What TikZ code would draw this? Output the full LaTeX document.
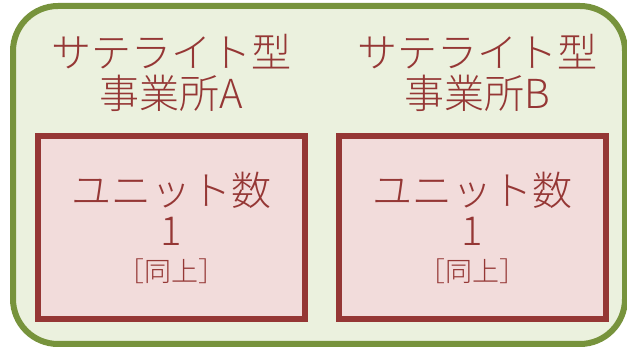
\documentclass[tikz,border=0pt]{standalone}
\usepackage{fontspec}
\setmainfont{Noto Sans CJK JP Light}
\usetikzlibrary{positioning}
\definecolor{leafline}{HTML}{77933C}
\definecolor{leaffill}{HTML}{EBF1DE}
\definecolor{brick}{HTML}{953735}
\definecolor{rosefill}{HTML}{F2DCDB}
\tikzset{
  >=stealth
}

\begin{document}
\begin{tikzpicture}[
        x=1pt,y=-1pt,
        area/.style={draw=leafline,fill=leaffill,line width=6pt,rounded corners=45pt},
        unitbox/.style={rectangle,draw=brick,fill=rosefill,line width=6pt,inner sep=0pt,
          minimum width=267pt,minimum height=183pt,text=brick,align=center,
          font=\fontsize{40}{40}\selectfont},
        title/.style={text=brick,align=center,font=\fontsize{40}{41}\selectfont}
      ]
      \useasboundingbox (0,0) rectangle (627,347);
      \draw[area] (13,6) rectangle (625,344);
      \node (UA) at (171.5,227.5) [unitbox] {ユニット数\\1\\[-4pt]{\fontsize{27}{27}\selectfont［同上］}};
      \node (UB) at (472,227.5) [unitbox] {ユニット数\\1\\[-4pt]{\fontsize{27}{27}\selectfont［同上］}};
      \node (TA) at (171.5,73) [title] {サテライト型\\事業所A};
      \node (TB) at (477,73) [title] {サテライト型\\事業所B};
    \end{tikzpicture}
\end{document}
